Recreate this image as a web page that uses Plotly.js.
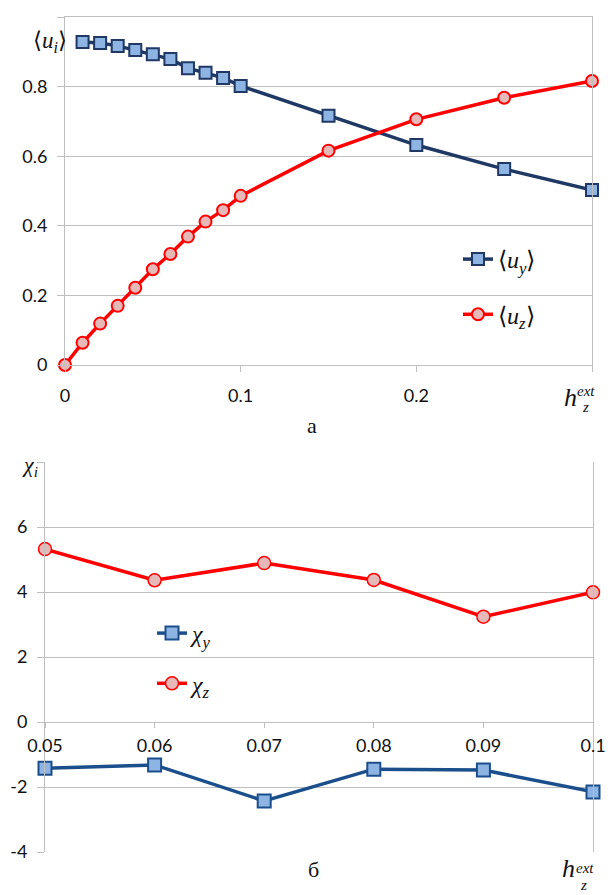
<!DOCTYPE html>
<html><head><meta charset="utf-8">
<script src="https://cdn.plot.ly/plotly-3.0.1.min.js"></script>
<style>html,body{margin:0;padding:0;background:#fff}#chart{width:611px;height:895px}</style>
</head><body><div id="chart"></div>
<script>
// ---- data (panel а) ----
const hUy = [0.01,0.02,0.03,0.04,0.05,0.06,0.07,0.08,0.09,0.10,0.15,0.20,0.25,0.30];
const uy  = [0.928,0.925,0.917,0.905,0.893,0.879,0.853,0.840,0.825,0.802,0.716,0.632,0.563,0.503];
const hUz = [0,0.01,0.02,0.03,0.04,0.05,0.06,0.07,0.08,0.09,0.10,0.15,0.20,0.25,0.30];
const uz  = [0,0.064,0.119,0.170,0.222,0.275,0.319,0.369,0.412,0.445,0.486,0.616,0.706,0.768,0.816];
// ---- data (panel б) ----
const hChi = [0.05,0.06,0.07,0.08,0.09,0.10];
const chiY = [-1.42,-1.32,-2.43,-1.45,-1.48,-2.15];
const chiZ = [5.32,4.36,4.89,4.37,3.24,3.99];
// ---- tick labels ----
const topXTickVals = [0,0.1,0.2,0.3];
const topXTickText = ['0','0.1','0.2',''];
const topYTickVals = [0,0.2,0.4,0.6,0.8,1.0];
const topYTickText = ['0','0.2','0.4','0.6','0.8',''];
const botXTickVals = [0.05,0.06,0.07,0.08,0.09,0.10];
const botXTickText = ['0.05','0.06','0.07','0.08','0.09','0.1'];
const botYTickVals = [-4,-2,0,2,4,6,8];
const botYTickText = ['-4','-2','0','2','4','6',''];

const W = 611, H = 895;
const M = {l:45, r:18, t:17, b:43};
const PW = W - M.l - M.r, PH = H - M.t - M.b;
const px = x => (x - M.l) / PW;
const py = y => (H - M.b - y) / PH;

const navy = '#1F3864', blue2 = '#1B4F8C', red = '#FF0000';
const sqFill = '#8DB4E2', ciFill = '#E6B9B8';
const grid = '#BFBFBF';
const tickFont = {family:'Lato, Open Sans, sans-serif', size:18, color:'#111'};
const mathFont = {family:'Liberation Serif', size:22, color:'#111'};
const legFont = {family:'Liberation Serif', size:24, color:'#111'};

const dom1y = [py(365), py(17)];
const dom2y = [py(852), py(462)];
const botYRange = [-4, 8];
const zeroPos = dom2y[0] + (dom2y[1]-dom2y[0]) * (0 - botYRange[0])/(botYRange[1]-botYRange[0]);

const traces = [
  {x:hUy, y:uy, name:'⟨<i>u<sub>y</sub></i>⟩', mode:'lines+markers', xaxis:'x', yaxis:'y',
   line:{color:navy, width:3.5}, marker:{symbol:'square', size:12, color:sqFill, line:{color:navy, width:2}},
   cliponaxis:false, legend:'legend', legendgroup:'a1'},
  {x:hUz, y:uz, name:'⟨<i>u<sub>z</sub></i>⟩', mode:'lines+markers', xaxis:'x', yaxis:'y',
   line:{color:red, width:3.5}, marker:{symbol:'circle', size:12, color:ciFill, line:{color:red, width:2}},
   cliponaxis:false, legend:'legend', legendgroup:'a2'},
  {x:hChi, y:chiY, name:'<i>χ<sub>y</sub></i>', mode:'lines+markers', xaxis:'x2', yaxis:'y2',
   line:{color:blue2, width:3.5}, marker:{symbol:'square', size:13, color:sqFill, line:{color:blue2, width:2}},
   cliponaxis:false, legend:'legend2', legendgroup:'b1'},
  {x:hChi, y:chiZ, name:'<i>χ<sub>z</sub></i>', mode:'lines+markers', xaxis:'x2', yaxis:'y2',
   line:{color:red, width:3.5}, marker:{symbol:'circle', size:13, color:ciFill, line:{color:red, width:1.5}},
   cliponaxis:false, legend:'legend2', legendgroup:'b2'}
];

const axCommon = {showline:true, linecolor:grid, linewidth:1, ticks:'outside', tickcolor:grid,
  tickfont:tickFont, zeroline:false, fixedrange:true};

const layout = {
  width:W, height:H, margin:M, paper_bgcolor:'#fff', plot_bgcolor:'#fff',
  xaxis: Object.assign({}, axCommon, {domain:[px(65), px(592)], range:[0,0.3], anchor:'y',
    tickmode:'array', tickvals:topXTickVals, ticktext:topXTickText, ticklen:6, showgrid:false,
    mirror:true, ticklabelstandoff:8}),
  yaxis: Object.assign({}, axCommon, {domain:dom1y, range:[0,1], anchor:'x',
    tickmode:'array', tickvals:topYTickVals, ticktext:topYTickText, ticklen:7, showgrid:true,
    gridcolor:grid, mirror:true, ticklabelstandoff:6}),
  xaxis2: Object.assign({}, axCommon, {domain:[px(45), px(593)], range:[0.05,0.1], anchor:'free',
    position:zeroPos, tickmode:'array', tickvals:botXTickVals, ticktext:botXTickText, ticklen:5,
    showgrid:false, ticklabelstandoff:2}),
  yaxis2: Object.assign({}, axCommon, {domain:dom2y, range:botYRange, anchor:'x2',
    tickmode:'array', tickvals:botYTickVals, ticktext:botYTickText, ticklen:7, showgrid:true,
    gridcolor:grid, mirror:true, ticklabelstandoff:6}),
  legend: {x:px(458), y:py(237), xanchor:'left', yanchor:'top', font:legFont, bgcolor:'rgba(0,0,0,0)',
    traceorder:'grouped', tracegroupgap:21},
  legend2: {x:px(152), y:py(611), xanchor:'left', yanchor:'top', font:legFont, bgcolor:'rgba(0,0,0,0)',
    traceorder:'grouped', tracegroupgap:16},
  showlegend:true,
  annotations: [
    {xref:'paper', yref:'paper', x:px(31), y:py(26), text:'⟨<i>u<sub>i</sub></i>⟩', showarrow:false, font:Object.assign({}, mathFont, {size:23})},
    {xref:'paper', yref:'paper', x:px(20), y:py(466), text:'<i>χ<sub>i</sub></i>', showarrow:false, font:mathFont},
    {xref:'paper', yref:'paper', x:px(312), y:py(425), text:'а', showarrow:false, font:mathFont},
    {xref:'paper', yref:'paper', x:px(313), y:py(884), text:'б', showarrow:false, font:mathFont},
    // h_z^ext, panel а
    {xref:'paper', yref:'paper', x:px(579), y:py(397), text:'<i>h</i>', showarrow:false, font:Object.assign({}, mathFont, {size:26})},
    {xref:'paper', yref:'paper', x:px(597), y:py(391), text:'<i>ext</i>', showarrow:false, font:Object.assign({}, mathFont, {size:15})},
    {xref:'paper', yref:'paper', x:px(591), y:py(407), text:'<i>z</i>', showarrow:false, font:Object.assign({}, mathFont, {size:15})},
    // h_z^ext, panel б
    {xref:'paper', yref:'paper', x:px(577), y:py(885), text:'<i>h</i>', showarrow:false, font:Object.assign({}, mathFont, {size:26})},
    {xref:'paper', yref:'paper', x:px(596), y:py(878), text:'<i>ext</i>', showarrow:false, font:Object.assign({}, mathFont, {size:15})},
    {xref:'paper', yref:'paper', x:px(589), y:py(895), text:'<i>z</i>', showarrow:false, font:Object.assign({}, mathFont, {size:15})}
  ]
};

Plotly.newPlot('chart', traces, layout, {displayModeBar:false, staticPlot:true});
</script>
</body></html>
